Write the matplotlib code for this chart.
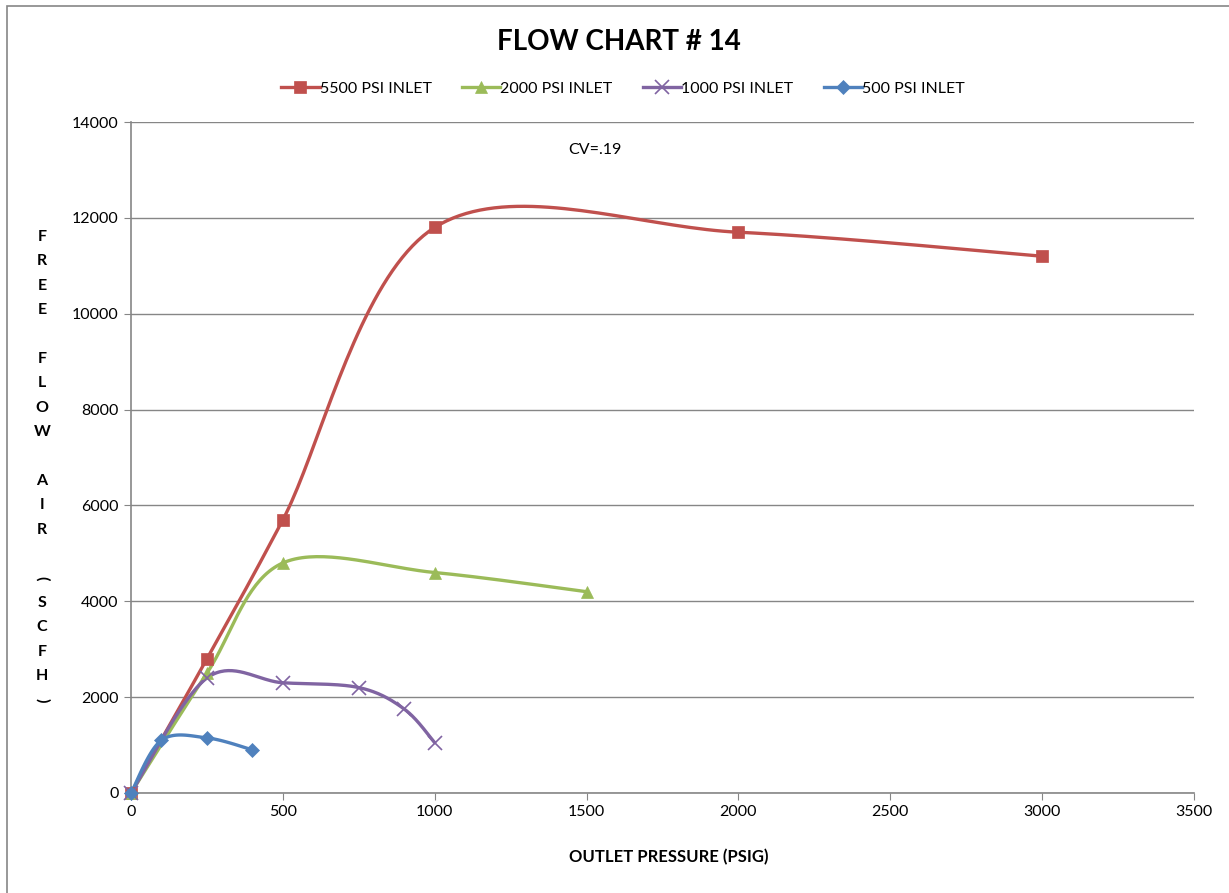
import numpy as np
import matplotlib
matplotlib.use("Agg")
import matplotlib.pyplot as plt
from matplotlib.patches import Rectangle

plt.rcParams["font.family"] = ["Lato", "DejaVu Sans"]

x_5500 = [0, 250, 500, 1000, 2000, 3000]
y_5500 = [0, 2800, 5700, 11800, 11700, 11200]

x_2000 = [0, 250, 500, 1000, 1500]
y_2000 = [0, 2500, 4800, 4600, 4200]

x_1000 = [0, 250, 500, 750, 900, 1000]
y_1000 = [0, 2400, 2300, 2200, 1750, 1050]

x_500 = [0, 100, 250, 400]
y_500 = [0, 1100, 1150, 900]

x_ticks = [0, 500, 1000, 1500, 2000, 2500, 3000, 3500]
y_ticks = [0, 2000, 4000, 6000, 8000, 10000, 12000, 14000]

XMAX, YMAX = 3500, 14000
AX_W, AX_H = 1063.0, 671.0   # plot area size in pixels


def smooth(xs, ys, n=40):
    # Excel-style smoothed line: Catmull-Rom bezier in screen units
    p = np.column_stack([np.array(xs) / XMAX * AX_W, np.array(ys) / YMAX * AX_H])
    pts = np.vstack([p[0], p, p[-1]])
    out = []
    t = np.linspace(0, 1, n)[:, None]
    for i in range(1, len(pts) - 2):
        p0, p1, p2, p3 = pts[i - 1], pts[i], pts[i + 1], pts[i + 2]
        c1 = p1 + (p2 - p0) / 6.0
        c2 = p2 - (p3 - p1) / 6.0
        seg = ((1 - t) ** 3) * p1 + 3 * ((1 - t) ** 2) * t * c1 + 3 * (1 - t) * t ** 2 * c2 + t ** 3 * p2
        out.append(seg)
    out = np.vstack(out)
    return out[:, 0] / AX_W * XMAX, out[:, 1] / AX_H * YMAX


fig = plt.figure(figsize=(12.29, 8.93), dpi=100)
ax = fig.add_axes([131 / 1229, 1 - 793 / 893, (1194 - 131) / 1229, (793 - 122) / 893])

series = [
    (x_5500, y_5500, "#C0504D", "s", 9, "5500 PSI INLET"),
    (x_2000, y_2000, "#9BBB59", "^", 9, "2000 PSI INLET"),
    (x_1000, y_1000, "#8064A2", "x", 10, "1000 PSI INLET"),
    (x_500, y_500, "#4F81BD", "D", 7, "500 PSI INLET"),
]

handles = []
for xs, ys, col, mk, ms, lab in series:
    sx, sy = smooth(xs, ys)
    ax.plot(sx, sy, color=col, linewidth=2.4, solid_capstyle="round", zorder=3)
    ax.plot(xs, ys, linestyle="none", marker=mk, markersize=ms, color=col,
            markeredgewidth=1.2 if mk == "x" else 0.5, zorder=4, clip_on=False)
    h, = ax.plot([], [], color=col, linewidth=2.4, marker=mk, markersize=ms,
                 markeredgewidth=1.2 if mk == "x" else 0.5, label=lab)
    handles.append(h)

ax.set_xlim(0, XMAX)
ax.set_ylim(0, YMAX)
ax.set_xticks(x_ticks)
ax.set_yticks(y_ticks)
ax.tick_params(labelsize=11.5, color="#868686", length=5, pad=4)
ax.grid(axis="y", color="#868686", linewidth=1)
ax.set_axisbelow(True)
for s in ["top", "right"]:
    ax.spines[s].set_visible(False)
for s in ["left", "bottom"]:
    ax.spines[s].set_color("#868686")
    ax.spines[s].set_linewidth(1.2)

ax.text((595 - 131) / 1063, 1 - (150 - 122) / 671, "CV=.19", transform=ax.transAxes,
        fontsize=11.5, ha="center", va="center")

fig.text(619 / 1229, 1 - 42 / 893, "FLOW CHART # 14", fontsize=20, fontweight="bold",
         ha="center", va="center")
fig.text(669 / 1229, 1 - 857 / 893, "OUTLET PRESSURE (PSIG)", fontsize=12,
         fontweight="bold", ha="center", va="center")

# vertical stacked y label
letters = list("FREE") + [""] + list("FLOW") + [""] + list("AIR") + [""] + ["("] + list("SCFH") + [")"]
for i, ch in enumerate(letters):
    if not ch:
        continue
    rot = -90 if ch in "()" else 0
    fig.text(42 / 1229, 1 - (237 + i * 24.4) / 893, ch, fontsize=11.5, fontweight="bold",
             ha="center", va="center", rotation=rot)

fig.legend(handles=handles, loc="center", bbox_to_anchor=(623 / 1229, 1 - 89 / 893),
           ncol=4, frameon=False, fontsize=11.5, handlelength=2.4, columnspacing=1.9,
           handletextpad=0.0)

# outer chart border
fig.add_artist(Rectangle((7 / 1229, -0.1), 1.2, 1 - 6 / 893 + 0.1, transform=fig.transFigure,
                         fill=False, edgecolor="#868686", linewidth=1.2))

fig.savefig("out.png", dpi=100)
